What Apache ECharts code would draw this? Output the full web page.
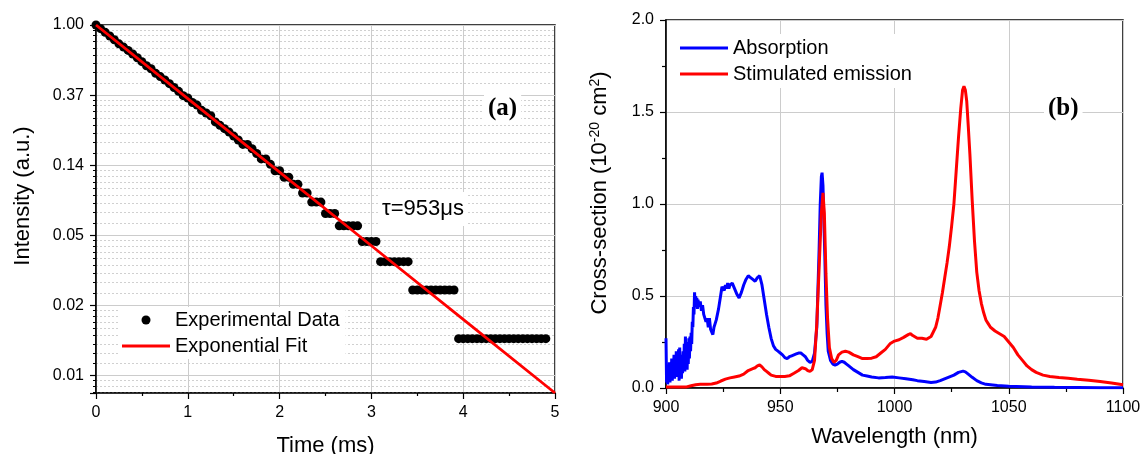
<!DOCTYPE html>
<html>
<head>
<meta charset="utf-8">
<script src="https://cdn.jsdelivr.net/npm/echarts@6/dist/echarts.min.js"></script>
<style>
html,body{margin:0;padding:0;background:#fff;}
#chart{width:1143px;height:454px;}
</style>
</head>
<body>
<div id="chart"></div>
<script>
// ---------- Panel (a): fluorescence decay ----------
const decayTime = [0.00,0.05,0.10,0.15,0.20,0.25,0.30,0.35,0.40,0.45,0.50,0.55,0.60,0.65,0.70,0.75,0.80,0.85,0.90,0.95,
  1.00,1.05,1.10,1.15,1.20,1.25,1.30,1.35,1.40,1.45,1.50,1.55,1.60,1.65,1.70,1.75,1.80,1.85,1.90,1.95,
  2.00,2.05,2.10,2.15,2.20,2.25,2.30,2.35,2.40,2.45,2.50,2.55,2.60,2.65,2.70,2.75,2.80,2.85,2.90,2.95,
  3.00,3.05,3.10,3.15,3.20,3.25,3.30,3.35,3.40,3.45,3.50,3.55,3.60,3.65,3.70,3.75,3.80,3.85,3.90,3.95,
  4.00,4.05,4.10,4.15,4.20,4.25,4.30,4.35,4.40,4.45,4.50,4.55,4.60,4.65,4.70,4.75,4.80,4.85,4.90];
const decayIntensity = [1.000,0.949,0.901,0.855,0.810,0.764,0.730,0.696,0.661,0.627,0.593,0.559,0.536,0.502,0.479,0.456,0.433,0.410,0.388,0.365,
  0.353,0.331,0.319,0.296,0.285,0.274,0.251,0.239,0.228,0.217,0.205,0.194,0.182,0.182,0.171,0.160,0.148,0.148,0.137,0.125,
  0.125,0.114,0.114,0.103,0.103,0.091,0.091,0.080,0.080,0.080,0.068,0.068,0.068,0.057,0.057,0.057,0.057,0.057,0.0456,0.0456,
  0.0456,0.0456,0.0342,0.0342,0.0342,0.0342,0.0342,0.0342,0.0342,0.0228,0.0228,0.0228,0.0228,0.0228,0.0228,0.0228,0.0228,0.0228,0.0228,0.0114,
  0.0114,0.0114,0.0114,0.0114,0.0114,0.0114,0.0114,0.0114,0.0114,0.0114,0.0114,0.0114,0.0114,0.0114,0.0114,0.0114,0.0114,0.0114,0.0114];
const fitTime = [0, 1, 2, 3, 4, 5];
const fitIntensity = [1.000, 0.350, 0.1226, 0.0429, 0.0150, 0.00525];
const timeTicks = [0, 1, 2, 3, 4, 5];

// ---------- Panel (b): cross-sections ----------
const absorption = [[900,0.27],[900.25,0.03],[900.5,0.12],[900.75,0.02],[901,0.10],[901.25,0.04],[901.5,0.14],[901.75,0.03],
 [902,0.12],[902.25,0.05],[902.5,0.16],[902.75,0.04],[903,0.13],[903.25,0.06],[903.5,0.18],[903.75,0.05],
 [904,0.17],[904.25,0.07],[904.5,0.20],[904.75,0.06],[905,0.19],[905.25,0.08],[905.5,0.21],[905.75,0.04],
 [906,0.22],[906.25,0.06],[906.5,0.18],[906.75,0.05],[907,0.16],[907.25,0.08],[907.5,0.20],[907.75,0.10],
 [908,0.24],[908.25,0.09],[908.5,0.28],[908.75,0.12],[909,0.22],[909.25,0.10],[909.5,0.25],[909.75,0.13],
 [910,0.27],[910.25,0.16],[910.5,0.28],[910.75,0.20],[911,0.30],[911.25,0.24],[911.5,0.36],[911.75,0.33],
 [912,0.44],[912.25,0.40],[912.5,0.52],[912.75,0.45],[913,0.50],[913.25,0.44],[913.5,0.49],[913.75,0.43],
 [914,0.48],[914.5,0.44],[915,0.47],[915.5,0.42],[916,0.45],[916.5,0.40],[917,0.41],[917.5,0.36],
 [918,0.38],[918.5,0.33],[919,0.38],[919.5,0.32],[920,0.33],[920.5,0.29],[921,0.33],[921.5,0.35],
 [922,0.37],[922.5,0.40],[923,0.43],[923.5,0.47],[924,0.51],[924.5,0.55],[925,0.56],[925.5,0.53],
 [926,0.56],[926.5,0.54],[927,0.57],[927.5,0.54],[928,0.56],[928.5,0.55],[929,0.57],[930,0.54],
 [931,0.51],[932,0.49],[933,0.52],[934,0.56],[935,0.59],[936,0.61],[937,0.60],[938,0.59],[939,0.58],
 [940,0.60],[941,0.61],[942,0.56],[943,0.48],[944,0.40],[945,0.33],[946,0.27],[947,0.23],[948,0.21],
 [949,0.20],[950,0.19],[951,0.18],[952,0.165],[953,0.16],[954,0.17],[955,0.175],[956,0.18],[957,0.185],
 [958,0.19],[959,0.19],[960,0.18],[961,0.17],[962,0.15],[963,0.14],[964,0.145],[965,0.19],[966,0.33],
 [967,0.75],[967.5,1.0],[968,1.15],[968.3,1.17],[968.7,1.10],[969,0.95],[969.5,0.72],[970,0.45],[970.5,0.30],
 [971,0.20],[972,0.15],[973,0.13],[974,0.125],[975,0.13],[976,0.14],[977,0.145],[978,0.14],[979,0.13],
 [980,0.12],[982,0.10],[984,0.085],[986,0.07],[988,0.065],[990,0.06],[993,0.055],[996,0.057],[999,0.06],
 [1002,0.055],[1005,0.05],[1008,0.045],[1010,0.04],[1013,0.035],[1016,0.03],[1018,0.032],[1020,0.04],
 [1023,0.055],[1026,0.07],[1028,0.085],[1030,0.092],[1031,0.088],[1032,0.078],[1034,0.058],[1036,0.04],
 [1038,0.028],[1040,0.02],[1045,0.014],[1050,0.01],[1060,0.006],[1070,0.004],[1080,0.003],[1090,0.002],[1100,0.002]];
const emission = [[900,0.005],[905,0.005],[909,0.006],[911,0.012],[913,0.018],[915,0.02],[918,0.02],[920,0.022],
 [922,0.027],[924,0.038],[926,0.048],[928,0.055],[930,0.06],[932,0.065],[934,0.075],[936,0.095],[938,0.105],
 [939,0.11],[940,0.12],[941,0.125],[942,0.115],[943,0.10],[944,0.09],[945,0.08],[946,0.07],[948,0.063],
 [950,0.062],[952,0.063],[954,0.066],[956,0.08],[958,0.095],[959.5,0.11],[961,0.105],[962,0.095],[963,0.09],
 [964,0.10],[965,0.15],[966,0.35],[967,0.65],[968,0.95],[968.7,1.06],[969.3,0.95],[970,0.62],[970.7,0.38],
 [971.5,0.22],[972.5,0.16],[973.5,0.14],[974.5,0.15],[975.5,0.18],[977,0.195],[978.5,0.2],[980,0.195],
 [982,0.18],[984,0.17],[986,0.16],[988,0.16],[990,0.162],[992,0.17],[994,0.19],[996,0.21],[998,0.24],
 [1000,0.255],[1002,0.262],[1004,0.275],[1006,0.29],[1007,0.295],[1008,0.285],[1010,0.27],[1012,0.27],
 [1014,0.265],[1016,0.28],[1018,0.33],[1019,0.38],[1020,0.45],[1021,0.52],[1022,0.60],[1023,0.68],
 [1024,0.77],[1025,0.88],[1026,1.0],[1027,1.18],[1028,1.36],[1029,1.52],[1029.8,1.62],[1030.4,1.64],
 [1031,1.62],[1031.6,1.56],[1032.3,1.42],[1033,1.27],[1034,1.02],[1035,0.80],[1036,0.63],[1037,0.53],
 [1038,0.46],[1039,0.41],[1040,0.37],[1041,0.35],[1042,0.33],[1044,0.31],[1046,0.295],[1048,0.28],
 [1050,0.25],[1052,0.22],[1054,0.18],[1056,0.15],[1058,0.12],[1060,0.10],[1062,0.085],[1065,0.07],
 [1068,0.063],[1072,0.057],[1076,0.053],[1080,0.048],[1085,0.042],[1090,0.035],[1095,0.027],[1100,0.018]];
const wavelengthTicks = [900, 950, 1000, 1050, 1100];
const crossTicks = [0.0, 0.5, 1.0, 1.5, 2.0];

const FONT = 'Liberation Sans';
const LINE_ICON = 'path://M0,0L50,0L50,3L0,3Z';
const chart = echarts.init(document.getElementById('chart'), null, {renderer: 'canvas'});

const axisCommon = {
  axisLine: {show: true, lineStyle: {color: '#000', width: 1.5}},
  axisTick: {show: true, inside: false, length: 6, lineStyle: {color: '#000', width: 1.2}},
  axisLabel: {color: '#000', fontSize: 16, fontFamily: FONT, margin: 12},
  nameTextStyle: {color: '#000', fontSize: 22, fontFamily: FONT},
  nameLocation: 'middle'
};

const option = {
  backgroundColor: '#fff',
  animation: false,
  grid: [
    {left: 96, right: 588, top: 25, bottom: 61, show: true, borderColor: '#000', borderWidth: 1.5,
     backgroundColor: 'transparent', containLabel: false, outerBoundsMode: 'none'},
    {left: 666, right: 20, top: 20, bottom: 66, show: true, borderColor: '#000', borderWidth: 1.5,
     backgroundColor: 'transparent', containLabel: false, outerBoundsMode: 'none'}
  ],
  xAxis: [
    Object.assign({}, axisCommon, {
      type: 'value', gridIndex: 0, min: timeTicks[0], max: timeTicks[timeTicks.length - 1], interval: 1,
      name: 'Time (ms)', nameGap: 42,
      minorTick: {show: true, splitNumber: 2, length: 3, lineStyle: {color: '#000', width: 1.2}},
      splitLine: {show: true, lineStyle: {color: '#cccccc', width: 1}}
    }),
    Object.assign({}, axisCommon, {
      type: 'value', gridIndex: 1, min: wavelengthTicks[0], max: wavelengthTicks[wavelengthTicks.length - 1], interval: 50,
      name: 'Wavelength (nm)', nameGap: 38,
      axisLabel: Object.assign({}, axisCommon.axisLabel, {formatter: function (v) { return String(v); }}),
      minorTick: {show: true, splitNumber: 2, length: 4, lineStyle: {color: '#000', width: 1.2}},
      splitLine: {show: true, lineStyle: {color: '#cccccc', width: 1}}
    })
  ],
  yAxis: [
    Object.assign({}, axisCommon, {
      type: 'log', logBase: Math.E, gridIndex: 0, min: 0.00525, max: 1,
      name: 'Intensity (a.u.)', nameGap: 62,
      nameTextStyle: {color: '#000', fontSize: 22, fontFamily: FONT, padding: [0, 0, 0, 26]},
      axisLabel: Object.assign({}, axisCommon.axisLabel, {showMinLabel: false,
        formatter: function (v) { return Number(v).toFixed(2); }}),
      minorTick: {show: true, splitNumber: 9, length: 3, lineStyle: {color: '#000', width: 1}},
      splitLine: {show: true, lineStyle: {color: '#cccccc', width: 1}},
      minorSplitLine: {show: true, lineStyle: {color: '#d0d0d0', width: 1, type: [2, 2]}}
    }),
    Object.assign({}, axisCommon, {
      type: 'value', gridIndex: 1, min: crossTicks[0], max: crossTicks[crossTicks.length - 1], interval: 0.5,
      name: 'Cross-section (10{sup|-20} cm{sup|2})', nameGap: 55,
      nameTextStyle: {color: '#000', fontSize: 22, fontFamily: FONT, padding: [0, 0, 0, 22],
        rich: {sup: {fontSize: 14, fontFamily: FONT, color: '#000', verticalAlign: 'top', padding: [0, 0, 9, 0]}}},
      axisLabel: Object.assign({}, axisCommon.axisLabel, {formatter: function (v) { return Number(v).toFixed(1); }}),
      minorTick: {show: true, splitNumber: 2, length: 4, lineStyle: {color: '#000', width: 1.2}},
      splitLine: {show: true, lineStyle: {color: '#cccccc', width: 1}}
    })
  ],
  legend: [
    {
      data: [{name: 'Experimental Data', icon: 'circle'}, {name: 'Exponential Fit', icon: LINE_ICON}],
      orient: 'vertical', left: 118, top: 307, itemWidth: 48, itemHeight: 9, itemGap: 6,
      backgroundColor: '#fff', padding: [3, 6, 3, 4],
      textStyle: {fontSize: 20, fontFamily: FONT, color: '#000'}
    },
    {
      data: [{name: 'Absorption', icon: LINE_ICON}, {name: 'Stimulated emission', icon: LINE_ICON}],
      orient: 'vertical', left: 672, top: 34, itemWidth: 48, itemHeight: 10, itemGap: 6,
      backgroundColor: '#fff', padding: [4, 10, 4, 8],
      textStyle: {fontSize: 20, fontFamily: FONT, color: '#000'}
    }
  ],
  graphic: [
    {type: 'text', left: 379, top: 192, z: 50,
     style: {text: 'τ=953μs', fontSize: 22, fontFamily: FONT, fill: '#000', backgroundColor: '#fff', padding: [6, 4, 6, 3]}},
    {type: 'text', left: 484, top: 92, z: 50,
     style: {text: '(a)', fontSize: 25, fontWeight: 'bold', fontFamily: 'Liberation Serif', fill: '#000', backgroundColor: '#fff', padding: [4, 4, 4, 4]}},
    {type: 'text', left: 1044, top: 92, z: 50,
     style: {text: '(b)', fontSize: 25, fontWeight: 'bold', fontFamily: 'Liberation Serif', fill: '#000', backgroundColor: '#fff', padding: [4, 4, 4, 4]}}
  ],
  series: [
    {
      name: 'Experimental Data', type: 'scatter', xAxisIndex: 0, yAxisIndex: 0,
      symbol: 'circle', symbolSize: 9, itemStyle: {color: '#000', opacity: 1},
      data: decayTime.map(function (t, i) { return [t, decayIntensity[i]]; }), z: 2
    },
    {
      name: 'Exponential Fit', type: 'line', xAxisIndex: 0, yAxisIndex: 0,
      symbol: 'none', showSymbol: false, lineStyle: {color: '#ff0000', width: 2.8}, itemStyle: {color: '#ff0000'},
      data: fitTime.map(function (t, i) { return [t, fitIntensity[i]]; }), z: 3
    },
    {
      name: 'Absorption', type: 'line', xAxisIndex: 1, yAxisIndex: 1,
      symbol: 'none', showSymbol: false, lineStyle: {color: '#0000ff', width: 3}, itemStyle: {color: '#0000ff'},
      data: absorption, z: 2
    },
    {
      name: 'Stimulated emission', type: 'line', xAxisIndex: 1, yAxisIndex: 1,
      symbol: 'none', showSymbol: false, lineStyle: {color: '#ff0000', width: 3}, itemStyle: {color: '#ff0000'},
      data: emission, z: 3
    }
  ]
};
chart.setOption(option);
</script>
</body>
</html>
